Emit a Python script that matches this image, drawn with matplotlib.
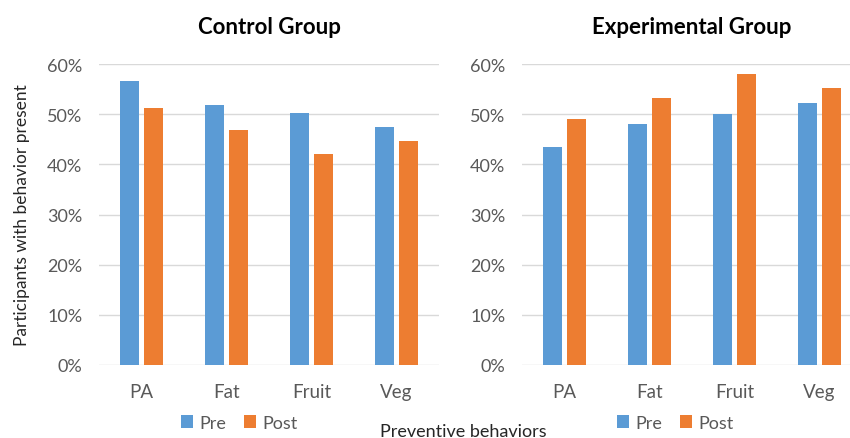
import numpy as np
import matplotlib
matplotlib.use("Agg")
import matplotlib.pyplot as plt
from matplotlib.ticker import PercentFormatter

categories = ["PA", "Fat", "Fruit", "Veg"]
control_pre = [56.7, 51.8, 50.2, 47.5]
control_post = [51.2, 46.8, 42.0, 44.6]
exp_pre = [43.4, 48.0, 50.0, 52.3]
exp_post = [49.0, 53.3, 58.1, 55.2]

BLUE = "#5B9BD5"
ORANGE = "#ED7D31"
GRAY = "#595959"
GRID = "#D9D9D9"

plt.rcParams['font.family'] = ['Lato', 'DejaVu Sans']

W, H = 850, 439
fig = plt.figure(figsize=(W / 100, H / 100), dpi=100)


def draw_panel(x0, pre, post, title, legend_x):
    ax = fig.add_axes([x0 / W, (H - 366) / H, 340 / W, (366 - 65) / H])
    x = np.arange(len(categories))
    ax.bar(x - 0.145, pre, width=0.225, color=BLUE, label="Pre", zorder=3)
    ax.bar(x + 0.145, post, width=0.225, color=ORANGE, label="Post", zorder=3)
    ax.set_xlim(-0.5, 3.5)
    ax.set_ylim(0, 60)
    ax.set_yticks(range(0, 61, 10))
    ax.yaxis.set_major_formatter(PercentFormatter(decimals=0))
    ax.set_xticks(x)
    ax.set_xticklabels(categories)
    ax.grid(axis='y', color=GRID, linewidth=1.0, zorder=0)
    for s in ax.spines.values():
        s.set_visible(False)
    ax.tick_params(axis='both', length=0, labelsize=13, colors=GRAY)
    ax.tick_params(axis='x', pad=13, labelsize=13.5)
    ax.tick_params(axis='y', pad=12)
    ax.set_title(title, fontsize=16, fontweight='bold', pad=22)
    leg = ax.legend(loc='center', bbox_to_anchor=(legend_x / W, (H - 424) / H),
                    bbox_transform=fig.transFigure, ncol=2, frameon=False,
                    fontsize=13, handlelength=0.7, handleheight=0.7,
                    handletextpad=0.3, columnspacing=1.0)
    for t in leg.get_texts():
        t.set_color(GRAY)
    return ax


ax1 = draw_panel(99, control_pre, control_post, "Control Group", 239)
ax2 = draw_panel(522, exp_pre, exp_post, "Experimental Group", 675)

ax1.set_ylabel("Participants with behavior present", fontsize=12.5, color="#262626", labelpad=12)
fig.text(463 / W, (H - 432) / H, "Preventive behaviors", fontsize=13,
         color="#262626", ha='center', va='center')

fig.savefig("out.png", dpi=100)
